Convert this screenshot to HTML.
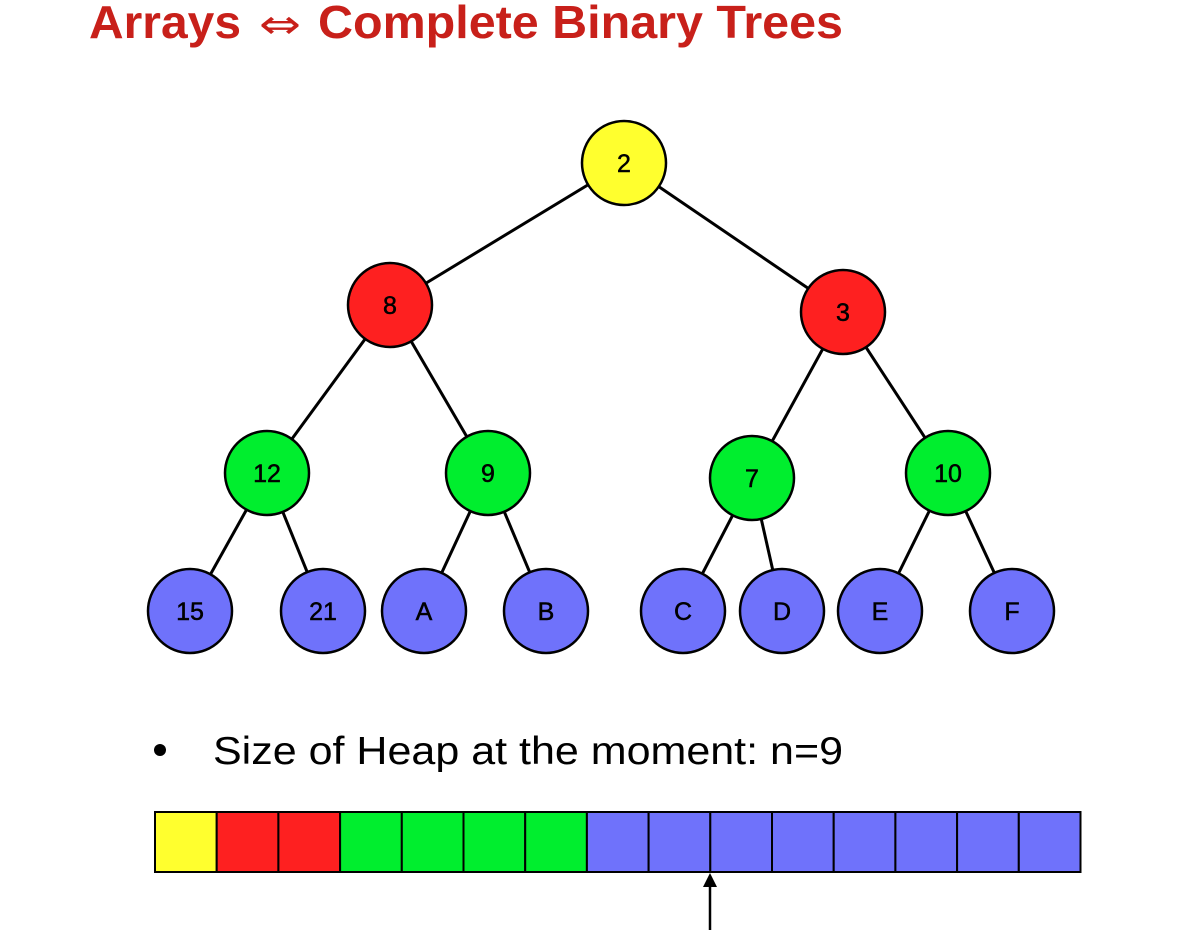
<!DOCTYPE html>
<html><head><meta charset="utf-8"><style>
html,body{margin:0;padding:0;background:#fff;width:1195px;height:950px;overflow:hidden}
svg{display:block}
</style></head><body>
<svg width="1195" height="950" xmlns="http://www.w3.org/2000/svg">
<g font-family="Liberation Sans, DejaVu Sans, sans-serif" font-weight="bold" font-size="46" fill="#c8201a">
<text x="89" y="38" textLength="152" lengthAdjust="spacingAndGlyphs">Arrays</text>
<text x="259" y="38" font-family="DejaVu Sans, sans-serif" font-weight="normal" font-size="40" textLength="42" lengthAdjust="spacingAndGlyphs">⇔</text>
<text x="318" y="38" textLength="525" lengthAdjust="spacingAndGlyphs">Complete Binary Trees</text>
</g>
<g stroke="#000" stroke-width="3">
<line x1="624" y1="163" x2="390" y2="305"/>
<line x1="624" y1="163" x2="843" y2="312"/>
<line x1="390" y1="305" x2="267" y2="473"/>
<line x1="390" y1="305" x2="488" y2="473"/>
<line x1="843" y1="312" x2="752" y2="478"/>
<line x1="843" y1="312" x2="948" y2="473"/>
<line x1="267" y1="473" x2="190" y2="611"/>
<line x1="267" y1="473" x2="323" y2="611"/>
<line x1="488" y1="473" x2="424" y2="611"/>
<line x1="488" y1="473" x2="546" y2="611"/>
<line x1="752" y1="478" x2="683" y2="611"/>
<line x1="752" y1="478" x2="782" y2="611"/>
<line x1="948" y1="473" x2="880" y2="611"/>
<line x1="948" y1="473" x2="1012" y2="611"/>
</g>
<g stroke="#000" stroke-width="2.5">
<circle cx="624" cy="163" r="42" fill="#ffff2e"/>
<circle cx="390" cy="305" r="42" fill="#fe2020"/>
<circle cx="843" cy="312" r="42" fill="#fe2020"/>
<circle cx="267" cy="473" r="42" fill="#00ee2e"/>
<circle cx="488" cy="473" r="42" fill="#00ee2e"/>
<circle cx="752" cy="478" r="42" fill="#00ee2e"/>
<circle cx="948" cy="473" r="42" fill="#00ee2e"/>
<circle cx="190" cy="611" r="42" fill="#6f72fb"/>
<circle cx="323" cy="611" r="42" fill="#6f72fb"/>
<circle cx="424" cy="611" r="42" fill="#6f72fb"/>
<circle cx="546" cy="611" r="42" fill="#6f72fb"/>
<circle cx="683" cy="611" r="42" fill="#6f72fb"/>
<circle cx="782" cy="611" r="42" fill="#6f72fb"/>
<circle cx="880" cy="611" r="42" fill="#6f72fb"/>
<circle cx="1012" cy="611" r="42" fill="#6f72fb"/>
</g>
<g font-family="Liberation Sans, DejaVu Sans, sans-serif" font-size="25" text-anchor="middle" fill="#000" stroke="#000" stroke-width="0.5">
<text x="624" y="172">2</text>
<text x="390" y="314">8</text>
<text x="843" y="321">3</text>
<text x="267" y="482">12</text>
<text x="488" y="482">9</text>
<text x="752" y="487">7</text>
<text x="948" y="482">10</text>
<text x="190" y="620">15</text>
<text x="323" y="620">21</text>
<text x="424" y="620">A</text>
<text x="546" y="620">B</text>
<text x="683" y="620">C</text>
<text x="782" y="620">D</text>
<text x="880" y="620">E</text>
<text x="1012" y="620">F</text>
</g>
<circle cx="160" cy="750" r="6" fill="#000"/>
<text x="213" y="764" font-family="Liberation Sans, DejaVu Sans, sans-serif" font-size="39" fill="#000" textLength="630" lengthAdjust="spacingAndGlyphs">Size of Heap at the moment: n=9</text>
<g stroke="#000" stroke-width="2">
<rect x="155" y="812" width="61.7" height="60" fill="#ffff2e"/>
<rect x="216.7" y="812" width="61.7" height="60" fill="#fe2020"/>
<rect x="278.4" y="812" width="61.7" height="60" fill="#fe2020"/>
<rect x="340.1" y="812" width="61.7" height="60" fill="#00ee2e"/>
<rect x="401.8" y="812" width="61.7" height="60" fill="#00ee2e"/>
<rect x="463.5" y="812" width="61.7" height="60" fill="#00ee2e"/>
<rect x="525.2" y="812" width="61.7" height="60" fill="#00ee2e"/>
<rect x="586.9" y="812" width="61.7" height="60" fill="#6f72fb"/>
<rect x="648.6" y="812" width="61.7" height="60" fill="#6f72fb"/>
<rect x="710.3" y="812" width="61.7" height="60" fill="#6f72fb"/>
<rect x="772" y="812" width="61.7" height="60" fill="#6f72fb"/>
<rect x="833.7" y="812" width="61.7" height="60" fill="#6f72fb"/>
<rect x="895.4" y="812" width="61.7" height="60" fill="#6f72fb"/>
<rect x="957.1" y="812" width="61.7" height="60" fill="#6f72fb"/>
<rect x="1018.8" y="812" width="61.7" height="60" fill="#6f72fb"/>
</g>
<line x1="710" y1="930" x2="710" y2="884" stroke="#000" stroke-width="2.5"/>
<polygon points="710,873 703,887 717,887" fill="#000"/>
</svg>
</body></html>
